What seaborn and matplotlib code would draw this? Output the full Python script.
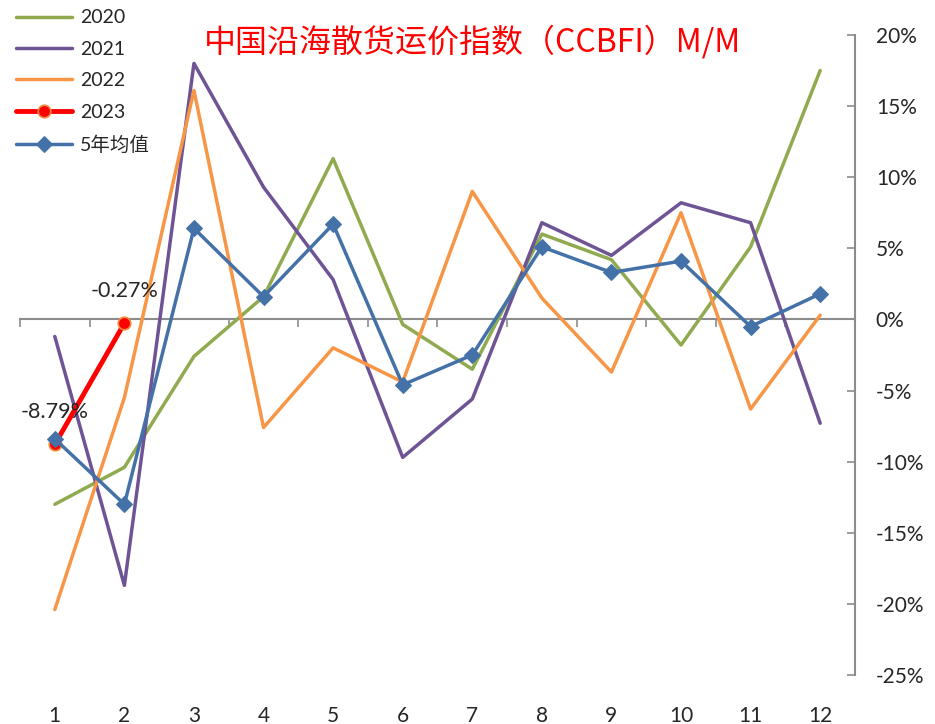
import numpy as np
import pandas as pd
import matplotlib.pyplot as plt
import seaborn as sns

# monthly M/M change of CCBFI, in %
months = list(range(1, 13))
y2020 = [-13.0, -10.4, -2.6, 1.6, 11.3, -0.35, -3.5, 6.0, 4.2, -1.8, 5.1, 17.5]
y2021 = [-1.2, -18.7, 18.0, 9.3, 2.8, -9.7, -5.6, 6.8, 4.5, 8.2, 6.8, -7.3]
y2022 = [-20.4, -5.5, 16.1, -7.6, -2.0, -4.4, 9.0, 1.5, -3.7, 7.5, -6.3, 0.3]
y2023 = [-8.79, -0.27]
avg5 = [-8.4, -13.0, 6.4, 1.6, 6.7, -4.6, -2.5, 5.1, 3.3, 4.1, -0.5, 1.8]
y_ticks = [-25, -20, -15, -10, -5, 0, 5, 10, 15, 20]

sns.set_style("white")
plt.rcParams['font.family'] = ['Lato', 'Noto Sans CJK SC', 'DejaVu Sans']

fig = plt.figure(figsize=(9.35, 7.24), dpi=100)
ax = fig.add_axes([0.0214, 0.0677, 0.893, 0.884])

cols = {"2020": "#8FAA4F", "2021": "#6E5494", "2022": "#F79646",
        "2023": "#FF0000", "5年均值": "#4472A8"}

sns.lineplot(x=months, y=y2020, color=cols["2020"], lw=2.5, ax=ax, label="2020")
sns.lineplot(x=months, y=y2021, color=cols["2021"], lw=2.5, ax=ax, label="2021")
sns.lineplot(x=months, y=y2022, color=cols["2022"], lw=2.5, ax=ax, label="2022")
sns.lineplot(x=months[:2], y=y2023, color=cols["2023"], lw=3.5, ax=ax, label="2023",
             marker="o", markersize=9, markerfacecolor="#FF0000",
             markeredgecolor="#F08A3C", markeredgewidth=1.2)
sns.lineplot(x=months, y=avg5, color=cols["5年均值"], lw=2.5, ax=ax, label="5年均值",
             marker="D", markersize=8, markeredgecolor=cols["5年均值"])

# data labels for 2023
for m, v in zip(months[:2], y2023):
    ax.annotate(f"{v:.2f}%", (m, v), xytext=(0, 16), textcoords="offset points",
                ha="center", va="bottom", fontsize=15.5)

ax.set_xlim(0.5, 12.5)
ax.set_ylim(-25, 20)
for s in ["top", "left", "bottom"]:
    ax.spines[s].set_visible(False)
ax.spines["right"].set_color("#8C8C8C")
ax.spines["right"].set_linewidth(1.5)

ax.yaxis.tick_right()
ax.set_yticks(y_ticks)
ax.set_yticklabels([f"{t}%" for t in y_ticks], fontsize=15)
ax.tick_params(axis="y", direction="in", length=6, width=1.2, color="#8C8C8C",
               pad=15, right=True, left=False)

ax.set_xticks(months)
ax.set_xticklabels([str(m) for m in months], fontsize=15)
ax.tick_params(axis="x", length=0, pad=22)

# category axis crossing at zero
sec = ax.secondary_xaxis(0, transform=ax.transData)
sec.spines["bottom"].set_color("#8C8C8C")
sec.spines["bottom"].set_linewidth(1.5)
sec.set_xticks(np.arange(0.5, 13, 1))
sec.set_xticklabels([])
sec.tick_params(axis="x", direction="out", length=6, width=1.2, color="#8C8C8C")

ax.legend(loc="upper left", bbox_to_anchor=(-0.014, 1.052), frameon=False,
          fontsize=14, handlelength=2.9, handletextpad=0.4, labelspacing=0.74,
          borderaxespad=0)

fig.text(0.505, 0.942, "中国沿海散货运价指数（CCBFI）M/M", color="#FF0000",
         fontsize=23, ha="center", va="center", family=["Noto Sans CJK SC"])

fig.savefig("out.png", dpi=100)
